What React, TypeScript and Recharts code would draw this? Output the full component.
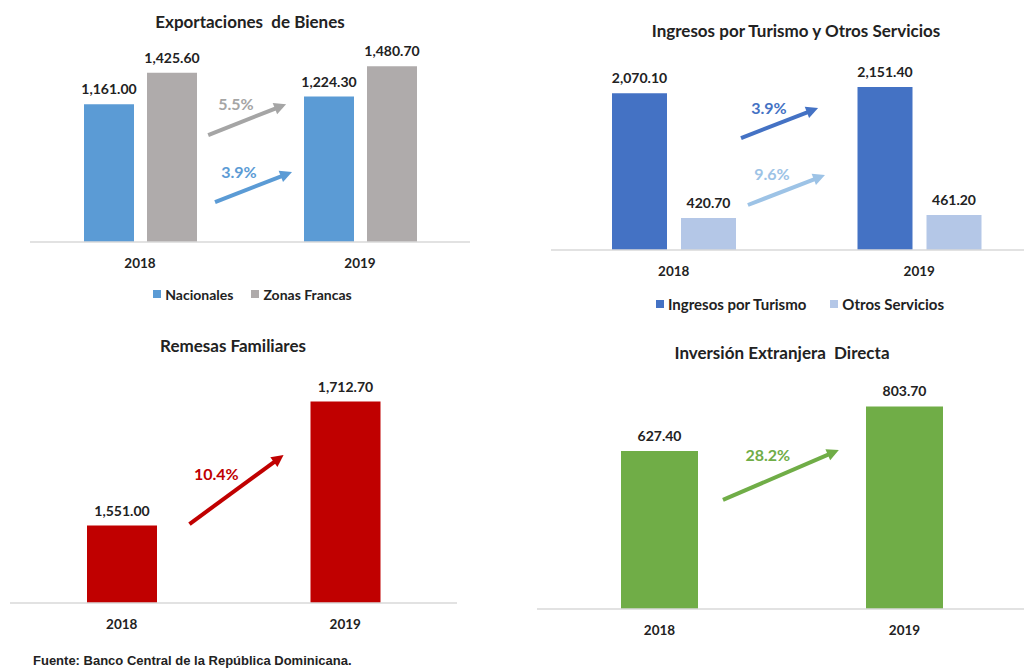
import React from 'react';
import { BarChart, Bar, XAxis, YAxis, LabelList, Legend, ReferenceLine } from 'recharts';

const years = ['2018', '2019'];

const nacionales = [1161.0, 1224.3];
const zonasFrancas = [1425.6, 1480.7];
const turismo = [2070.1, 2151.4];
const otrosServicios = [420.7, 461.2];
const remesas = [1551.0, 1712.7];
const inversion = [627.4, 803.7];

// growth arrows: t = position between the 2018 (0) and 2019 (1) bars, v = value on the y scale
const exportArrows = [
  { text: '5.5%', color: '#A5A5A5', t0: 0.31, v0: 900, t1: 0.664, v1: 1160, lt: 0.436, lv: 1160 },
  { text: '3.9%', color: '#5B9BD5', t0: 0.341, v0: 336, t1: 0.691, v1: 589, lt: 0.45, lv: 589 },
];
const serviciosArrows = [
  { text: '3.9%', color: '#4472C4', t0: 0.274, v0: 1478, t1: 0.588, v1: 1873, lt: 0.388, lv: 1873 },
  { text: '9.6%', color: '#9DC3E6', t0: 0.302, v0: 594, t1: 0.616, v1: 989, lt: 0.4, lv: 1003 },
];
const remesasArrows = [
  { text: '10.4%', color: '#C00000', t0: 0.303, v0: 1553, t1: 0.724, v1: 1643, lt: 0.423, lv: 1618 },
];
const inversionArrows = [
  { text: '28.2%', color: '#70AD47', t0: 0.259, v0: 433, t1: 0.732, v1: 631, lt: 0.442, lv: 611 },
];

const FONT = "Lato, 'Noto Sans', sans-serif";
const INK = '#222';

const fmt = (v: number) =>
  Number(v).toLocaleString('en-US', { minimumFractionDigits: 2, maximumFractionDigits: 2 });

type ArrowSpec = (typeof exportArrows)[number];

function arrowShape(a: ArrowSpec) {
  return (p: any) => {
    const { x1, y1, x2, y2 } = p;
    const sx = x1 + a.t0 * (x2 - x1);
    const ex = x1 + a.t1 * (x2 - x1);
    const sy = y1;
    const ey = y2;
    const yOf = (v: number) => y1 + ((v - a.v0) * (y2 - y1)) / (a.v1 - a.v0);
    const ang = Math.atan2(ey - sy, ex - sx);
    const c = Math.cos(ang);
    const s = Math.sin(ang);
    const head = 12;
    const half = 6;
    const bx = ex - head * c;
    const by = ey - head * s;
    const pts = `${ex},${ey} ${bx - half * s},${by + half * c} ${bx + half * s},${by - half * c}`;
    return (
      <g>
        <line x1={sx} y1={sy} x2={bx + 1 * c} y2={by + 1 * s} stroke={a.color} strokeWidth={4} />
        <polygon points={pts} fill={a.color} />
        <text
          x={x1 + a.lt * (x2 - x1)}
          y={yOf(a.lv)}
          dy="0.35em"
          textAnchor="middle"
          fill={a.color}
          fontSize={16}
          fontWeight={700}
          fontFamily={FONT}
        >
          {a.text}
        </text>
      </g>
    );
  };
}

function legendContent(items: { name: string; color: string }[], shift: number, gap: number, size: number) {
  return () => (
    <div
      style={{
        display: 'flex',
        justifyContent: 'center',
        alignItems: 'center',
        height: 18,
        paddingLeft: shift,
        gap,
        fontFamily: FONT,
        fontWeight: 700,
        fontSize: size,
        color: INK,
      }}
    >
      {items.map((it) => (
        <div key={it.name} style={{ display: 'flex', alignItems: 'center', gap: 4 }}>
          <span style={{ width: 8, height: 8, background: it.color, display: 'inline-block' }} />
          <span>{it.name}</span>
        </div>
      ))}
    </div>
  );
}

const tickStyle = { fill: INK, fontSize: 13.5, fontWeight: 700, fontFamily: FONT };
const labelProps = { position: 'top' as const, offset: 10, fill: INK, fontSize: 14, fontWeight: 700, fontFamily: FONT };

function Title({ text, cx, top }: { text: string; cx: number; top: number }) {
  return (
    <div
      style={{
        position: 'absolute',
        left: cx - 250,
        top,
        width: 500,
        textAlign: 'center',
        whiteSpace: 'pre',
        fontFamily: FONT,
        fontWeight: 700,
        fontSize: 17,
        lineHeight: '17px',
        color: INK,
      }}
    >
      {text}
    </div>
  );
}

export default function App() {
  const expData = years.map((y, i) => ({ year: y, nac: nacionales[i], zf: zonasFrancas[i] }));
  const servData = years.map((y, i) => ({ year: y, tur: turismo[i], otros: otrosServicios[i] }));
  const remData = years.map((y, i) => ({ year: y, rem: remesas[i] }));
  const invData = years.map((y, i) => ({ year: y, ied: inversion[i] }));

  return (
    <div
      style={{
        position: 'fixed',
        left: 0,
        top: 0,
        width: 1024,
        height: 669,
        overflow: 'hidden',
        background: '#fff',
      }}
    >
      <Title text="Exportaciones  de Bienes" cx={250} top={13} />
      <Title text="Ingresos por Turismo y Otros Servicios" cx={796} top={22} />
      <Title text="Remesas Familiares" cx={233} top={337} />
      <Title text="Inversión Extranjera  Directa" cx={782} top={344} />

      <div style={{ position: 'absolute', left: 0, top: 0 }}>
        <BarChart width={500} height={320} data={expData} margin={{ top: 52, right: 30, left: 30, bottom: 17 }} barGap={13}>
          <XAxis dataKey="year" axisLine={{ stroke: '#D9D9D9', strokeWidth: 1.5 }} tickLine={false} tick={tickStyle} tickMargin={10} height={43} />
          <YAxis hide domain={[0, 1600]} />
          <Legend verticalAlign="bottom" height={18} content={legendContent([{ name: 'Nacionales', color: '#5B9BD5' }, { name: 'Zonas Francas', color: '#AFABAB' }], 5, 18, 14)} />
          <Bar dataKey="nac" name="Nacionales" fill="#5B9BD5" barSize={50} isAnimationActive={false}>
            <LabelList dataKey="nac" formatter={fmt} {...labelProps} />
          </Bar>
          <Bar dataKey="zf" name="Zonas Francas" fill="#AFABAB" barSize={50} isAnimationActive={false}>
            <LabelList dataKey="zf" formatter={fmt} {...labelProps} />
          </Bar>
          {exportArrows.map((a) => (
            <ReferenceLine key={a.text + a.color} segment={[{ x: '2018', y: a.v0 }, { x: '2019', y: a.v1 }]} ifOverflow="visible" shape={arrowShape(a)} />
          ))}
        </BarChart>
      </div>

      <div style={{ position: 'absolute', left: 512, top: 0 }}>
        <BarChart width={530} height={322} data={servData} margin={{ top: 53, right: 0, left: 39, bottom: 9 }} barGap={14}>
          <XAxis dataKey="year" axisLine={{ stroke: '#D9D9D9', strokeWidth: 1.5 }} tickLine={false} tick={tickStyle} tickMargin={10} height={45} />
          <YAxis hide domain={[0, 2600]} />
          <Legend verticalAlign="bottom" height={18} content={legendContent([{ name: 'Ingresos por Turismo', color: '#4472C4' }, { name: 'Otros Servicios', color: '#B4C7E7' }], 7, 24, 15)} />
          <Bar dataKey="tur" name="Ingresos por Turismo" fill="#4472C4" barSize={55} isAnimationActive={false}>
            <LabelList dataKey="tur" formatter={fmt} {...labelProps} />
          </Bar>
          <Bar dataKey="otros" name="Otros Servicios" fill="#B4C7E7" barSize={55} isAnimationActive={false}>
            <LabelList dataKey="otros" formatter={fmt} {...labelProps} />
          </Bar>
          {serviciosArrows.map((a) => (
            <ReferenceLine key={a.text + a.color} segment={[{ x: '2018', y: a.v0 }, { x: '2019', y: a.v1 }]} ifOverflow="visible" shape={arrowShape(a)} />
          ))}
        </BarChart>
      </div>

      <div style={{ position: 'absolute', left: 0, top: 330 }}>
        <BarChart width={470} height={320} data={remData} margin={{ top: 43, right: 13, left: 10, bottom: 7 }}>
          <XAxis dataKey="year" axisLine={{ stroke: '#D9D9D9', strokeWidth: 1.5 }} tickLine={false} tick={tickStyle} tickMargin={10} height={40} />
          <YAxis hide domain={[1450, 1750]} />
          <Bar dataKey="rem" fill="#C00000" barSize={70} isAnimationActive={false}>
            <LabelList dataKey="rem" formatter={fmt} {...labelProps} />
          </Bar>
          {remesasArrows.map((a) => (
            <ReferenceLine key={a.text} segment={[{ x: '2018', y: a.v0 }, { x: '2019', y: a.v1 }]} ifOverflow="visible" shape={arrowShape(a)} />
          ))}
        </BarChart>
      </div>

      <div style={{ position: 'absolute', left: 512, top: 330 }}>
        <BarChart width={515} height={320} data={invData} margin={{ top: 27, right: 0, left: 25, bottom: 0 }}>
          <XAxis dataKey="year" axisLine={{ stroke: '#D9D9D9', strokeWidth: 1.5 }} tickLine={false} tick={tickStyle} tickMargin={10} height={41} />
          <YAxis hide domain={[0, 1000]} />
          <Bar dataKey="ied" fill="#70AD47" barSize={77} isAnimationActive={false}>
            <LabelList dataKey="ied" formatter={fmt} {...labelProps} />
          </Bar>
          {inversionArrows.map((a) => (
            <ReferenceLine key={a.text} segment={[{ x: '2018', y: a.v0 }, { x: '2019', y: a.v1 }]} ifOverflow="visible" shape={arrowShape(a)} />
          ))}
        </BarChart>
      </div>

      <div
        style={{
          position: 'absolute',
          left: 33,
          top: 654,
          fontFamily: "'Liberation Sans', Arial, sans-serif",
          fontWeight: 700,
          fontSize: 13,
          lineHeight: '13px',
          color: INK,
          whiteSpace: 'nowrap',
        }}
      >
        Fuente: Banco Central de la República Dominicana.
      </div>
    </div>
  );
}
